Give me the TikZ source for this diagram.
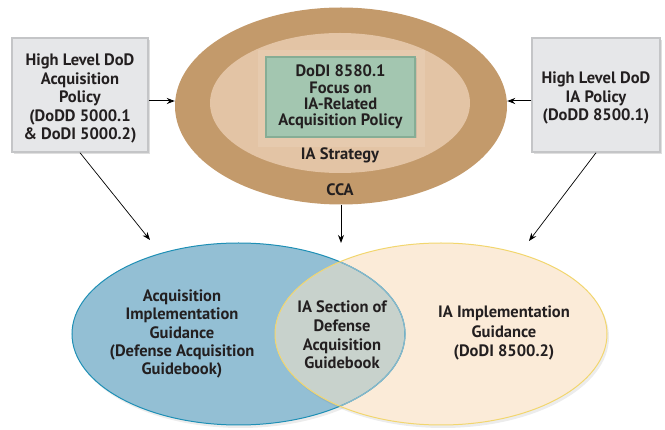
\documentclass[tikz,border=0pt]{standalone}
\usepackage{fontspec}
\setmainfont{PT Sans}
\usetikzlibrary{shapes.geometric,arrows.meta,shadows}
\definecolor{ink}{HTML}{231F20}
\definecolor{boxfill}{HTML}{E6E7E9}
\definecolor{boxline}{HTML}{C4C5C7}
\definecolor{tanout}{HTML}{C39A6B}
\definecolor{taninner}{HTML}{E3C4A5}
\definecolor{tanlight}{HTML}{E8CEB5}
\definecolor{greenfill}{HTML}{A3C6B0}
\definecolor{greenline}{HTML}{86AD95}
\definecolor{bluefill}{HTML}{93BFD4}
\definecolor{blueline}{HTML}{1E8FB5}
\definecolor{bluelight}{HTML}{86B8CA}
\definecolor{creamfill}{HTML}{FBEBD8}
\definecolor{creamline}{HTML}{F2D66E}
\definecolor{lensfill}{HTML}{C8D2CC}
\begin{document}
\begin{tikzpicture}[x=1pt,y=-1pt,
  txt/.style={font=\bfseries\fontsize{16.5}{18.5}\selectfont, text=ink, align=center, inner sep=0pt},
  greentxt/.style={font=\bfseries\fontsize{16.5}{16.3}\selectfont, text=ink, align=center},
  policybox/.style={draw=boxline, line width=1.5pt, fill=boxfill, inner sep=0pt,
    drop shadow={opacity=0.25,shadow xshift=2pt,shadow yshift=-2pt}, txt},
  venn/.style={ellipse, inner sep=0pt, drop shadow={opacity=0.15,shadow xshift=2pt,shadow yshift=-3pt}},
  arr/.style={-{Stealth[length=8pt,width=6pt]}, line width=0.7pt, black}]
\useasboundingbox (0,0) rectangle (665,430);

% top cluster
\node[ellipse, fill=tanout, minimum width=332pt, minimum height=197pt, inner sep=0pt] (outer) at (341,106) {};
\node[ellipse, fill=taninner, minimum width=260pt, minimum height=140pt, inner sep=0pt] (inner) at (340,103) {};
\fill[tanlight, opacity=0.6] (258,50) rectangle (425,147);
\node[draw=greenline, fill=greenfill, line width=1.2pt, minimum width=149pt, minimum height=80pt, inner sep=0pt,
  drop shadow={opacity=0.2,shadow xshift=1.5pt,shadow yshift=-1.5pt}, greentxt] (dodi) at (340.5,97)
  {DoDI 8580.1\\Focus on\\IA-Related\\Acquisition Policy};
\node[txt] (strategy) at (340,155) {IA Strategy};
\node[txt] (cca) at (340,190) {CCA};

% policy boxes
\node[policybox, minimum width=136pt, minimum height=114pt] (leftbox) at (80,95) {};
\node[txt] (lefttxt) at (80,98.5)
  {High Level DoD\\Acquisition\\Policy\\(DoDD 5000.1\\\& DoDI 5000.2)};
\node[policybox, minimum width=128pt, minimum height=114pt] (rightbox) at (596,95) {};
\node[txt] (righttxt) at (596,98)
  {High Level DoD\\IA Policy\\(DoDD 8500.1)};

% Venn diagram
\node[venn, fill=bluefill, minimum width=333pt, minimum height=182pt] (acq) at (238.5,334) {};
\node[venn, fill=creamfill, minimum width=332pt, minimum height=182pt] (impl) at (441,334) {};
\begin{scope}
  \clip (238.5,334) ellipse [x radius=166.5pt, y radius=91pt];
  \fill[lensfill] (441,334) ellipse [x radius=166pt, y radius=91pt];
\end{scope}
\draw[blueline, line width=1pt] (238.5,334) ellipse [x radius=166.5pt, y radius=91pt];
\begin{scope}
  \clip (441,334) ellipse [x radius=166pt, y radius=91pt];
  \draw[bluelight, line width=1.2pt] (238.5,334) ellipse [x radius=166.5pt, y radius=91pt];
\end{scope}
\draw[creamline, line width=1pt] (441,334) ellipse [x radius=166pt, y radius=91pt];

\node[txt, font=\bfseries\fontsize{16.5}{18.3}\selectfont] (acqtxt) at (182,334)
  {Acquisition\\Implementation\\Guidance\\(Defense Acquisition\\Guidebook)};
\node[txt, font=\bfseries\fontsize{16.5}{18.7}\selectfont] (lenstxt) at (342,335)
  {IA Section of\\Defense\\Acquisition\\Guidebook};
\node[txt, font=\bfseries\fontsize{16.5}{19.5}\selectfont] (impltxt) at (504,333)
  {IA Implementation\\Guidance\\(DoDI 8500.2)};

% connectors
\coordinate (tipL) at (150,240);
\coordinate (tipC) at (341,243);
\coordinate (tipR) at (529,241);
\draw[arr, line width=1pt] ([yshift=-6pt]leftbox.east) -- ([yshift=-6pt]leftbox.east -| outer.west);
\draw[arr, line width=1pt] ([yshift=-6pt]rightbox.west) -- ([yshift=-6pt]rightbox.west -| outer.east);
\draw[arr] (leftbox.south) -- (tipL);
\draw[arr] (rightbox.south) -- (tipR);
\draw[arr, line width=1pt] (outer.south) -- (tipC);
\end{tikzpicture}
\end{document}
